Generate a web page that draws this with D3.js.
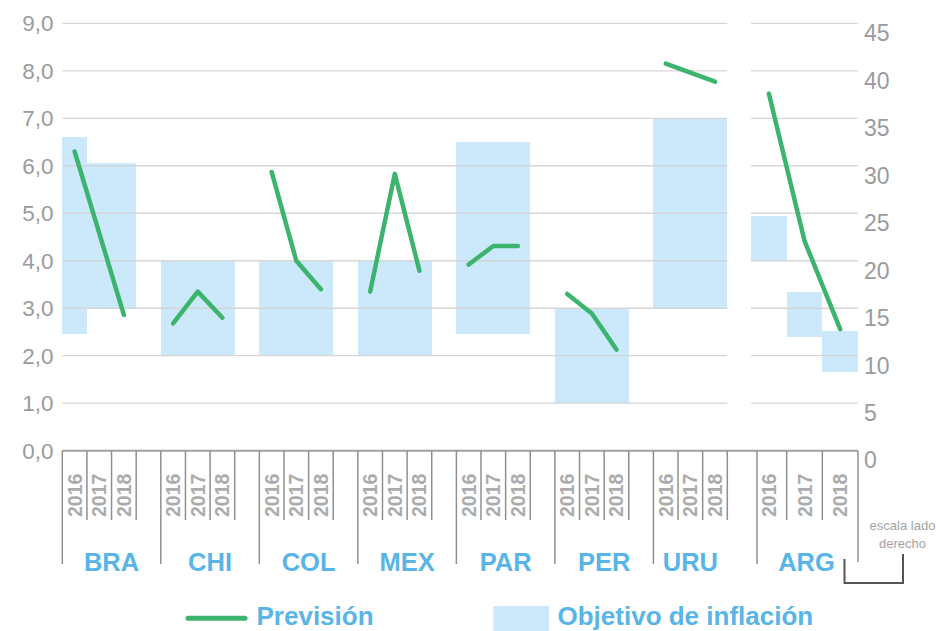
<!DOCTYPE html>
<html>
<head>
<meta charset="utf-8">
<script src="https://cdn.jsdelivr.net/npm/d3@7"></script>
<style>
  body { margin: 0; background: #fff; }
  svg { display: block; font-family: Arial, "Liberation Sans", sans-serif; }
</style>
</head>
<body>
<svg width="936" height="631"></svg>
<script>
var svg = d3.select('svg');

// data
var countries = ["BRA", "CHI", "COL", "MEX", "PAR", "PER", "URU"];
var years = ["2016", "2017", "2018"];
var forecast = [
    [6.3, 4.58, 2.86],
    [2.68, 3.35, 2.8],
    [5.87, 4.0, 3.4],
    [3.35, 5.83, 3.79],
    [3.92, 4.31, 4.31],
    [3.3, 2.89, 2.13],
    [8.15, 7.96, 7.77]
];
var targetLow = [
    [2.45, 3.0, 3.0],
    [2, 2, 2],
    [2, 2, 2],
    [2, 2, 2],
    [2.45, 2.45, 2.45],
    [1, 1, 1],
    [3, 3, 3]
];
var targetHigh = [
    [6.6, 6.05, 6.05],
    [4, 4, 4],
    [4, 4, 4],
    [4, 4, 4],
    [6.5, 6.5, 6.5],
    [3, 3, 3],
    [7, 7, 7]
];
// Argentina, right hand scale
var argName = "ARG";
var argForecast = [37.6, 22.1, 12.8];
var argTargetLow = [20, 12, 8.3];
var argTargetHigh = [24.7, 16.7, 12.6];

var leftTicks = [0, 1, 2, 3, 4, 5, 6, 7, 8, 9];
var rightTicks = [0, 5, 10, 15, 20, 25, 30, 35, 40, 45];

var lineColor = "#3db46d";
var barColor = "#cce9fc";
var blueText = "#5ab5e7";
var greyText = "#9b9b9b";
var gridColor = "#d3d3d3";

// slots: 3 years + 1 empty slot per country, no empty slot after the last one
var slots = [];
countries.forEach(function(c, i) {
    years.forEach(function(y) { slots.push(c + y); });
    if (i < countries.length - 1) slots.push(c + "gap");
});

var x = d3.scaleBand().domain(slots).range([62.3, 727.3]);
var xArg = d3.scaleBand().domain(years).range([751, 858]);
var yL = d3.scaleLinear().domain([0, 9]).range([450.7, 23.3]);
var yR = d3.scaleLinear().domain([0, 45]).range([450.7, 23.3]);

// bars
countries.forEach(function(c, i) {
    svg.append("g").selectAll("rect")
        .data(years)
        .enter()
        .append("rect")
        .attr("x", function(d) { return x(c + d); })
        .attr("width", x.bandwidth())
        .attr("y", function(d, j) { return yL(targetHigh[i][j]); })
        .attr("height", function(d, j) { return yL(targetLow[i][j]) - yL(targetHigh[i][j]); })
        .attr("shape-rendering", "crispEdges")
        .style("fill", barColor);
});
svg.append("g").selectAll("rect")
    .data(years)
    .enter()
    .append("rect")
    .attr("x", function(d) { return xArg(d); })
    .attr("width", xArg.bandwidth())
    .attr("y", function(d, j) { return yR(argTargetHigh[j]); })
    .attr("height", function(d, j) { return yR(argTargetLow[j]) - yR(argTargetHigh[j]); })
    .attr("shape-rendering", "crispEdges")
    .style("fill", barColor);

// grid lines, over the bars
var grid = svg.append("g");
grid.selectAll("line.gl")
    .data(leftTicks.slice(1))
    .enter()
    .append("line")
    .attr("class", "gl")
    .attr("x1", x.range()[0])
    .attr("x2", x.range()[1])
    .attr("y1", function(d) { return yL(d); })
    .attr("y2", function(d) { return yL(d); })
    .style("stroke", gridColor)
    .style("stroke-opacity", 0.9)
    .style("stroke-width", 1.3);
grid.selectAll("line.gr")
    .data(rightTicks.slice(1))
    .enter()
    .append("line")
    .attr("class", "gr")
    .attr("x1", xArg.range()[0])
    .attr("x2", xArg.range()[1])
    .attr("y1", function(d) { return yR(d); })
    .attr("y2", function(d) { return yR(d); })
    .style("stroke", gridColor)
    .style("stroke-opacity", 0.9)
    .style("stroke-width", 1.3);

// axis labels
svg.append("g").selectAll("text")
    .data(leftTicks)
    .enter()
    .append("text")
    .attr("x", 53.5)
    .attr("y", function(d) { return yL(d); })
    .attr("dy", "0.36em")
    .attr("text-anchor", "end")
    .style("font-size", "22.5px")
    .style("fill", greyText)
    .text(function(d) { return d3.format(".1f")(d).replace(".", ","); });

svg.append("g").selectAll("text")
    .data(rightTicks)
    .enter()
    .append("text")
    .attr("x", 864)
    .attr("y", function(d) { return yR(d) + 9.5; })
    .attr("dy", "0.36em")
    .attr("text-anchor", "start")
    .style("font-size", "23px")
    .style("fill", greyText)
    .text(function(d) { return d; });

// forecast lines
var line = d3.line()
    .x(function(d) { return d.x; })
    .y(function(d) { return d.y; });

countries.forEach(function(c, i) {
    var pts = years.map(function(yr, j) {
        return { x: x(c + yr) + x.bandwidth() / 2, y: yL(forecast[i][j]) };
    });
    svg.append("path")
        .attr("d", line(pts))
        .style("fill", "none")
        .style("stroke", lineColor)
        .style("stroke-width", 4.5)
        .style("stroke-linecap", "round")
        .style("stroke-linejoin", "round");
});
var argPts = years.map(function(yr, j) {
    return { x: xArg(yr) + xArg.bandwidth() / 2, y: yR(argForecast[j]) };
});
svg.append("path")
    .attr("d", line(argPts))
    .style("fill", "none")
    .style("stroke", lineColor)
    .style("stroke-width", 4.5)
    .style("stroke-linecap", "round")
    .style("stroke-linejoin", "round");

// category axis
var axis = svg.append("g");
var baseY = yL(0);
var shortY = 520;
var longY = 564;
var tickColor = "#8f8f8f";

axis.append("line")
    .attr("x1", x.range()[0]).attr("x2", xArg.range()[1])
    .attr("y1", baseY).attr("y2", baseY)
    .style("stroke", "#a0a0a0")
    .style("stroke-width", 2);

function tick(px, bottom) {
    axis.append("line")
        .attr("x1", px).attr("x2", px)
        .attr("y1", baseY).attr("y2", bottom)
        .style("stroke", tickColor)
        .style("stroke-width", 1.5);
}

function yearLabel(px, txt) {
    axis.append("text")
        .attr("transform", "translate(" + px + ",517) rotate(-90)")
        .attr("dy", "0.36em")
        .attr("text-anchor", "start")
        .style("font-size", "19.5px")
        .style("font-weight", "bold")
        .style("fill", "#ababab")
        .text(txt);
}

function countryLabel(px, txt) {
    axis.append("text")
        .attr("x", px)
        .attr("y", 571)
        .attr("text-anchor", "middle")
        .style("font-size", "25.5px")
        .style("font-weight", "bold")
        .style("fill", blueText)
        .text(txt);
}

countries.forEach(function(c, i) {
    var start = x(c + years[0]);
    tick(start, longY);
    years.forEach(function(yr) {
        tick(x(c + yr) + x.bandwidth(), shortY);
        yearLabel(x(c + yr) + x.bandwidth() / 2, yr);
    });
    var end = i < countries.length - 1 ? x(countries[i + 1] + years[0]) : x(c + years[2]) + x.bandwidth();
    countryLabel((start + end) / 2, c);
});

tick(xArg.range()[0] + 6, longY);
years.forEach(function(yr, j) {
    tick(xArg(yr) + xArg.bandwidth(), j == years.length - 1 ? 562 : shortY);
    yearLabel(xArg(yr) + xArg.bandwidth() / 2, yr);
});
countryLabel((xArg.range()[0] + xArg.range()[1]) / 2 + 2, argName);

// note for the right hand scale
var note = svg.append("g");
note.append("text")
    .attr("x", 902.5).attr("y", 530)
    .attr("text-anchor", "middle")
    .style("font-size", "13px")
    .style("fill", "#a3a3a3")
    .text("escala lado");
note.append("text")
    .attr("x", 902.5).attr("y", 548)
    .attr("text-anchor", "middle")
    .style("font-size", "13px")
    .style("fill", "#a3a3a3")
    .text("derecho");
note.append("path")
    .attr("d", "M844.5,559V583H903V554")
    .style("fill", "none")
    .style("stroke", "#555")
    .style("stroke-width", 2);

// legend
var legend = svg.append("g");
legend.append("line")
    .attr("x1", 188).attr("x2", 245)
    .attr("y1", 618.3).attr("y2", 618.3)
    .style("stroke", lineColor)
    .style("stroke-width", 5)
    .style("stroke-linecap", "round");
legend.append("text")
    .attr("x", 256.5).attr("y", 625)
    .style("font-size", "26px")
    .style("font-weight", "bold")
    .style("fill", blueText)
    .text("Previsión");
legend.append("rect")
    .attr("x", 493.3).attr("y", 606)
    .attr("width", 55.7).attr("height", 30)
    .style("fill", barColor);
legend.append("text")
    .attr("x", 557.5).attr("y", 625)
    .style("font-size", "26px")
    .style("font-weight", "bold")
    .style("fill", blueText)
    .text("Objetivo de inflación");
</script>
</body>
</html>
